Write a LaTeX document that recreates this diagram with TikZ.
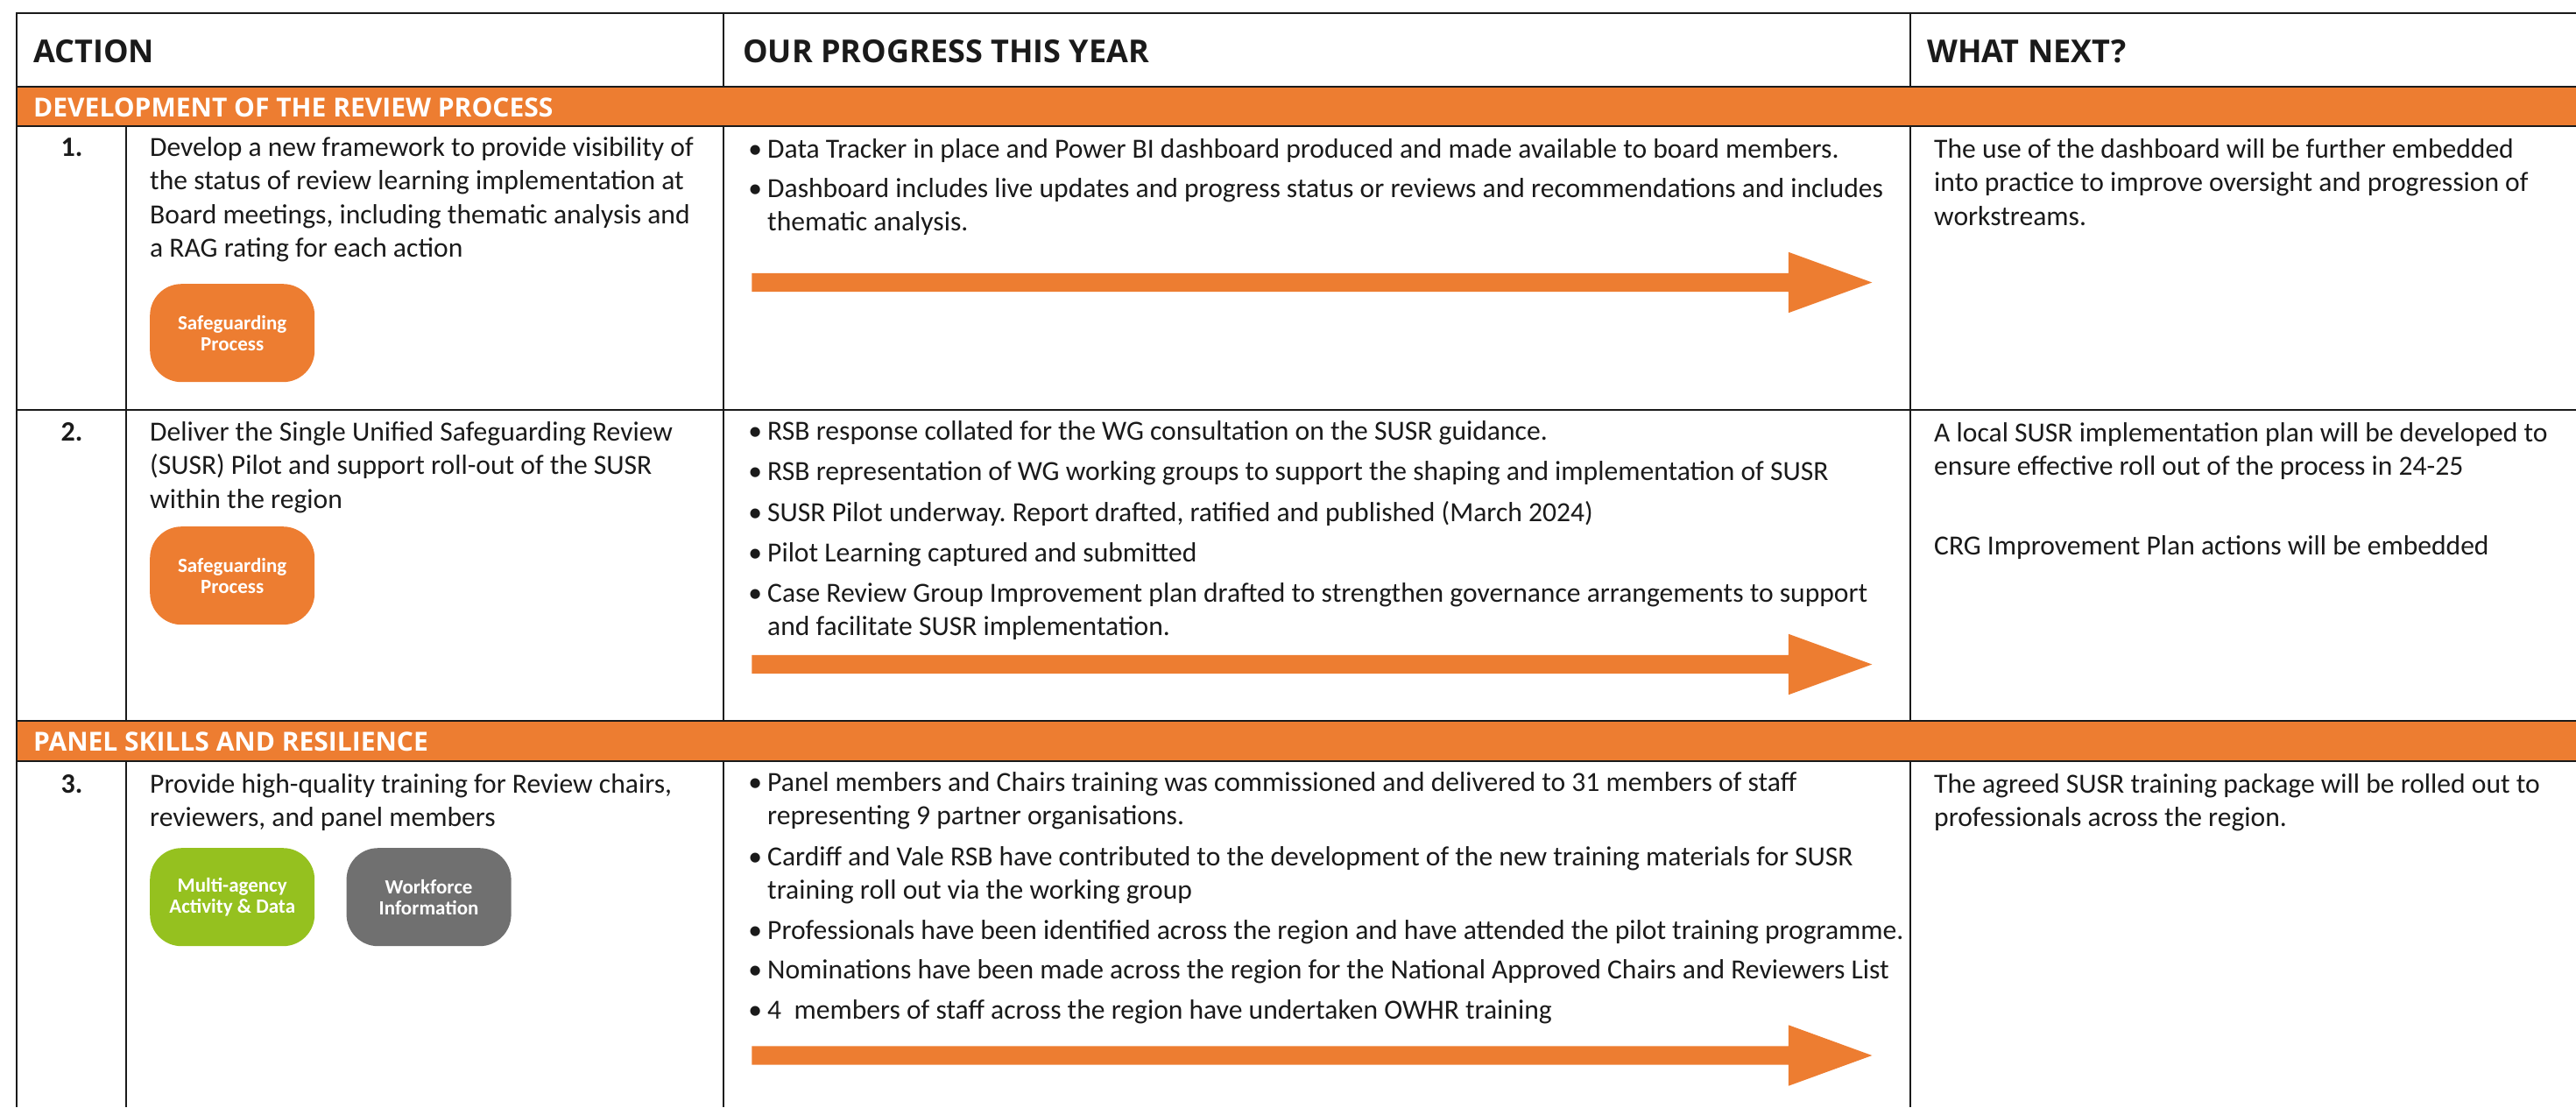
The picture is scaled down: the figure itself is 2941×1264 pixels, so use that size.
\documentclass[tikz,border=0pt]{standalone}
\usepackage{fontspec}
\setmainfont{Carlito}
\newfontfamily\hdrfont{Open Sans}
\usetikzlibrary{shapes.arrows,positioning}
\definecolor{accent}{HTML}{ED7D31}
\definecolor{leaf}{HTML}{95C11F}
\definecolor{slate}{HTML}{707070}
\definecolor{ink}{HTML}{1A1A1A}
\frenchspacing
\tikzset{
  rule/.style={draw=ink,line width=2.5pt},
  hdr/.style={anchor=base west,inner sep=0pt,text=ink,font=\hdrfont\bfseries\fontsize{36}{40}\selectfont},
  bandtxt/.style={anchor=base west,inner sep=0pt,text=white,font=\hdrfont\bfseries\fontsize{30}{34}\selectfont},
  num/.style={anchor=base,inner sep=0pt,text=ink,font=\bfseries\fontsize{32}{38.5}\selectfont},
  % multi-line nodes: base = baseline of the last line
  txt/.style={anchor=base west,align=left,inner sep=0pt,text=ink,font=\fontsize{31.6}{38.5}\selectfont},
  tag/.style={anchor=north west,rounded corners=36pt,minimum width=188pt,minimum height=112pt,
    inner sep=0pt,align=center,text=white,font=\bfseries\fontsize{23}{24}\selectfont},
  progarrow/.style={single arrow,fill=accent,anchor=west,inner sep=10.5pt,minimum height=1279pt,
    single arrow head extend=24pt,single arrow tip angle=40},
}
\newcommand*{\bul}{\llap{\textbullet\hspace{6pt}}}
\begin{document}
\begin{tikzpicture}[x=1pt,y=-1pt]
  \useasboundingbox (0,0) rectangle (2941,1264);
  % section bands
  \fill[accent] (19,99) rectangle (2941,144);
  \fill[accent] (19,823) rectangle (2941,869);
  % table rules
  \draw[rule] (19,1264) -- (19,15) -- (2941,15);
  \foreach \y in {99,144,468,823,869}
    \draw[rule] (19,\y) -- (2941,\y);
  \foreach \x in {826,2181} {
    \draw[rule] (\x,15) -- (\x,99);
    \draw[rule] (\x,144) -- (\x,823);
    \draw[rule] (\x,869) -- (\x,1264);
  }
  \draw[rule] (144,144) -- (144,823) (144,869) -- (144,1264);

  % header row
  \node[hdr] (hAction) at (38,71) {ACTION};
  \node[hdr] (hProgress) at (848,71) {OUR PROGRESS THIS YEAR};
  \node[hdr] (hNext) at (2200,71) {WHAT NEXT?};
  \node[bandtxt] (bandReview) at (38,133) {DEVELOPMENT OF THE REVIEW PROCESS};
  \node[bandtxt] (bandPanel) at (38,857) {PANEL SKILLS AND RESILIENCE};

  % row 1
  \node[num] (n1) at (82,178) {1.};
  \node[txt] (a1) at (171,293.5) {Develop a new framework to provide visibility of\\the status of review learning implementation at\\Board meetings, including thematic analysis and\\a RAG rating for each action};
  \node[tag,fill=accent] (t1) at (171,324) {Safeguarding\\Process};
  \node[txt] (p1a) at (876,180) {\bul Data Tracker in place and Power BI dashboard produced and made available to board members.};
  \node[txt] (p1b) at (876,263.5) {\bul Dashboard includes live updates and progress status or reviews and recommendations and includes\\thematic analysis.};
  \node[progarrow] (arr1) at (858,322.5) {};
  \node[txt] (w1) at (2208,257) {The use of the dashboard will be further embedded\\into practice to improve oversight and progression of\\workstreams.};

  % row 2
  \node[num] (n2) at (82,503) {2.};
  \node[txt] (a2) at (171,580) {Deliver the Single Unified Safeguarding Review\\(SUSR) Pilot and support roll-out of the SUSR\\within the region};
  \node[tag,fill=accent] (t2) at (171,601) {Safeguarding\\Process};
  \node[txt] (p2a) at (876,502) {\bul RSB response collated for the WG consultation on the SUSR guidance.};
  \node[txt] (p2b) at (876,548) {\bul RSB representation of WG working groups to support the shaping and implementation of SUSR};
  \node[txt] (p2c) at (876,595) {\bul SUSR Pilot underway. Report drafted, ratified and published (March 2024)};
  \node[txt] (p2d) at (876,641) {\bul Pilot Learning captured and submitted};
  \node[txt] (p2e) at (876,725.5) {\bul Case Review Group Improvement plan drafted to strengthen governance arrangements to support\\and facilitate SUSR implementation.};
  \node[progarrow] (arr2) at (858,758.5) {};
  \node[txt] (w2a) at (2208,542.5) {A local SUSR implementation plan will be developed to\\ensure effective roll out of the process in 24-25};
  \node[txt] (w2b) at (2208,633) {CRG Improvement Plan actions will be embedded};

  % row 3
  \node[num] (n3) at (82,905) {3.};
  \node[txt] (a3) at (171,943.5) {Provide high-quality training for Review chairs,\\reviewers, and panel members};
  \node[tag,fill=leaf] (t3) at (171,968) {Multi-agency\\Activity \& Data};
  \node[tag,fill=slate,right=36pt of t3.north east,anchor=north west] (t4) {Workforce\\Information};
  \node[txt] (p3a) at (876,941.5) {\bul Panel members and Chairs training was commissioned and delivered to 31 members of staff\\representing 9 partner organisations.};
  \node[txt] (p3b) at (876,1026.5) {\bul Cardiff and Vale RSB have contributed to the development of the new training materials for SUSR\\training roll out via the working group};
  \node[txt] (p3c) at (876,1072) {\bul Professionals have been identified across the region and have attended the pilot training programme.};
  \node[txt] (p3d) at (876,1117) {\bul Nominations have been made across the region for the National Approved Chairs and Reviewers List};
  \node[txt] (p3e) at (876,1163) {\bul 4\ \ members of staff across the region have undertaken OWHR training};
  \node[progarrow] (arr3) at (858,1205) {};
  \node[txt] (w3) at (2208,943.5) {The agreed SUSR training package will be rolled out to\\professionals across the region.};
\end{tikzpicture}
\end{document}
